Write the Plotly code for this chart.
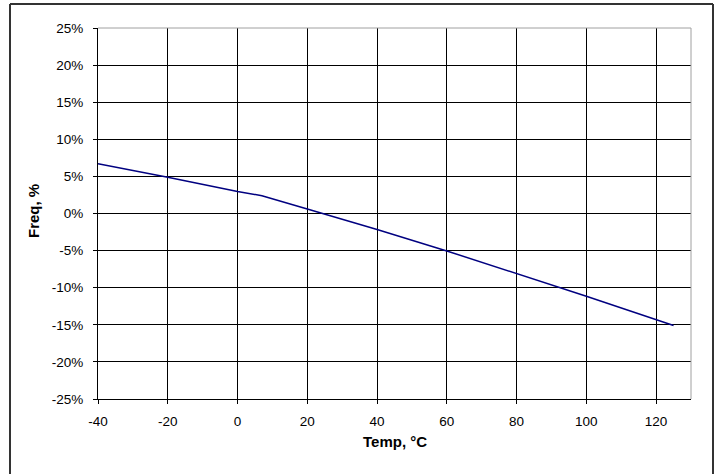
import plotly.graph_objects as go

temps = [-40, -20, 0, 7, 20, 40, 60, 80, 100, 125]
freq_pct = [6.7, 4.9, 2.97, 2.4, 0.6, -2.15, -5.05, -8.1, -11.15, -15.1]

x_tickvals = [-40, -20, 0, 20, 40, 60, 80, 100, 120]
x_ticktext = ["-40", "-20", "0", "20", "40", "60", "80", "100", "120"]
y_tickvals = [-25, -20, -15, -10, -5, 0, 5, 10, 15, 20, 25]
y_ticktext = ["-25%", "-20%", "-15%", "-10%", "-5%", "0%", "5%", "10%", "15%", "20%", "25%"]

x_title = "Temp, °C"
y_title = "Freq, %"

W, H = 721, 474
L, R, T, B = 98, 30, 28, 75
pw = W - L - R
ph = H - T - B

def px_x(p):
    return (p - L) / pw

def px_y(p):
    return (H - B - p) / ph

FAM = "Liberation Sans, Arial, sans-serif"

fig = go.Figure()
fig.add_trace(go.Scatter(x=temps, y=freq_pct, mode="lines",
                         line=dict(color="#000080", width=1.5),
                         showlegend=False, hoverinfo="skip"))

tickfont = dict(family=FAM, size=13.5, color="black")

bx0, bx1, by0, by1 = px_x(10), px_x(713), px_y(480), px_y(4)
border = dict(color="#333333", width=2)

fig.update_layout(
    width=W, height=H,
    margin=dict(l=L, r=R, t=T, b=B),
    paper_bgcolor="white", plot_bgcolor="white",
    font=tickfont,
    xaxis=dict(range=[-40, 130], tickmode="array", tickvals=x_tickvals, ticktext=x_ticktext,
               showgrid=True, gridcolor="black", gridwidth=1,
               zeroline=False, showline=True, linecolor="black", linewidth=1,
               ticks="outside", ticklen=4, tickcolor="black",
               tickfont=tickfont, ticklabelstandoff=6),
    yaxis=dict(range=[-25, 25], tickmode="array", tickvals=y_tickvals, ticktext=y_ticktext,
               showgrid=True, gridcolor="black", gridwidth=1,
               zeroline=False, showline=True, linecolor="black", linewidth=1,
               ticks="outside", ticklen=4, tickcolor="black",
               tickfont=tickfont, ticklabelstandoff=7),
    annotations=[
        dict(text="<b>" + x_title + "</b>", xref="paper", yref="paper",
             x=px_x(395), y=px_y(442), showarrow=False,
             xanchor="center", yanchor="middle",
             font=dict(family=FAM, size=15, color="black")),
        dict(text="<b>" + y_title + "</b>", xref="paper", yref="paper",
             x=px_x(33), y=px_y(211), showarrow=False, textangle=-90,
             xanchor="center", yanchor="middle",
             font=dict(family=FAM, size=15, color="black")),
    ],
    shapes=[
        dict(type="line", xref="paper", yref="paper", x0=0, x1=1, y0=1, y1=1,
             line=dict(color="#a0a0a0", width=1), layer="above"),
        dict(type="line", xref="paper", yref="paper", x0=1, x1=1, y0=0, y1=1,
             line=dict(color="#a0a0a0", width=1), layer="above"),
        dict(type="line", xref="paper", yref="paper", x0=bx0, x1=bx1, y0=by1, y1=by1,
             line=border, layer="above"),
        dict(type="line", xref="paper", yref="paper", x0=bx0, x1=bx0, y0=by0, y1=by1,
             line=border, layer="above"),
        dict(type="line", xref="paper", yref="paper", x0=bx1, x1=bx1, y0=by0, y1=by1,
             line=border, layer="above"),
    ],
)

fig.write_html("out.html",
               config={"displayModeBar": False},
               post_script="document.body.style.margin='0';document.body.style.overflow='hidden';")
